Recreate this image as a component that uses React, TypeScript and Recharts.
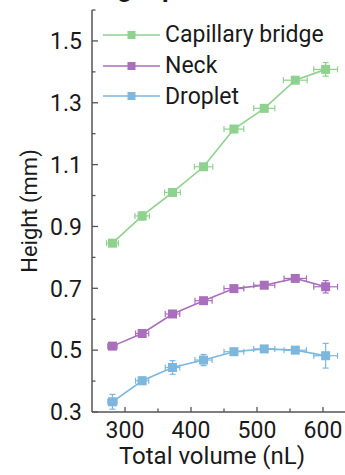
import { ErrorBar, Scatter, ScatterChart, XAxis, YAxis } from "recharts";

// x positions (nL) shared by the three series
const volumes = [281, 326, 372, 419, 465, 511, 558, 604];

const bridgeHeight = [0.846, 0.934, 1.01, 1.093, 1.215, 1.282, 1.373, 1.408];
const bridgeHeightErr = [0.008, 0.013, 0.01, 0.01, 0.008, 0.008, 0.01, 0.022];
const bridgeVolumeErr = [9, 11, 12, 14, 15, 16, 18, 18];

const neckHeight = [0.513, 0.554, 0.617, 0.66, 0.699, 0.71, 0.732, 0.705];
const neckHeightErr = [0.008, 0.012, 0.01, 0.008, 0.01, 0.008, 0.008, 0.02];
const neckVolumeErr = [7, 10, 11, 13, 15, 16, 17, 18];

const dropletHeight = [0.333, 0.401, 0.444, 0.468, 0.495, 0.504, 0.5, 0.482];
const dropletHeightErr = [0.024, 0.012, 0.022, 0.018, 0.01, 0.01, 0.008, 0.04];
const dropletVolumeErr = [7, 10, 11, 13, 15, 16, 17, 18];

const xTicks = [300, 350, 400, 450, 500, 550, 600, 650];
const xLabels = [300, 400, 500, 600];
const yTicks = [0.3, 0.4, 0.5, 0.6, 0.7, 0.8, 0.9, 1.0, 1.1, 1.2, 1.3, 1.4, 1.5, 1.6];
const yLabels = [0.3, 0.5, 0.7, 0.9, 1.1, 1.3, 1.5];

const series = [
  { name: "Capillary bridge", color: "#8fd18e", h: bridgeHeight, he: bridgeHeightErr, ve: bridgeVolumeErr },
  { name: "Neck", color: "#a96fbc", h: neckHeight, he: neckHeightErr, ve: neckVolumeErr },
  { name: "Droplet", color: "#7db7dd", h: dropletHeight, he: dropletHeightErr, ve: dropletVolumeErr },
];

const FONT = "Roboto, 'Noto Sans', sans-serif";
const AXIS = "#555";
const INK = "#1a1a1a";

const isIn = (list: number[], v: number) => list.some((l) => Math.abs(l - v) < 1e-6);

function YTick(props: any) {
  const { x, y, payload } = props;
  const major = isIn(yLabels, payload.value);
  return (
    <g>
      <line x1={x + 10} x2={x + 10 + (major ? 6 : 3.5)} y1={y} y2={y} stroke={AXIS} strokeWidth={1.3} />
      {major && (
        <text x={x} y={y} dy="0.36em" textAnchor="end" fontSize={23} fill={INK} fontFamily={FONT}>
          {payload.value.toFixed(1)}
        </text>
      )}
    </g>
  );
}

function XTick(props: any) {
  const { x, y, payload } = props;
  const major = isIn(xLabels, payload.value);
  return (
    <g>
      <line x1={x} x2={x} y1={y - 10} y2={y - 10 - (major ? 5 : 3.5)} stroke={AXIS} strokeWidth={1.3} />
      {major && (
        <text x={x} y={y} dy="0.71em" textAnchor="middle" fontSize={23} fill={INK} fontFamily={FONT}>
          {payload.value}
        </text>
      )}
    </g>
  );
}

function TopTick(props: any) {
  const { x, y } = props;
  return <line x1={x} x2={x} y1={y} y2={y + 4} stroke={AXIS} strokeWidth={1.3} />;
}

function Square(props: any) {
  const { cx, cy, fill } = props;
  if (cx == null || cy == null) return null;
  return <rect x={cx - 4.5} y={cy - 4.5} width={9} height={9} fill={fill} />;
}

function LegendBox() {
  return (
    <div style={{ position: "absolute", left: 103, top: 19.7, fontFamily: FONT, fontSize: 23, color: INK }}>
      {series.map((s) => (
        <div key={s.name} style={{ display: "flex", alignItems: "center", height: 30.6, whiteSpace: "nowrap" }}>
          <svg width={57} height={10} style={{ marginRight: 5 }}>
            <line x1={0} x2={57} y1={5} y2={5} stroke={s.color} strokeWidth={1.6} />
            <rect x={24.5} y={1} width={8} height={8} fill={s.color} />
          </svg>
          <span>{s.name}</span>
        </div>
      ))}
    </div>
  );
}

export default function App() {
  const data = series.map((s) =>
    volumes.map((v, i) => ({ v, h: s.h[i], he: s.he[i], ve: s.ve[i] }))
  );

  return (
    <div style={{ position: "fixed", left: 0, top: 0, width: 345, height: 475, overflow: "hidden", background: "#fff" }}>
      <div
        style={{
          position: "absolute",
          left: 78,
          top: -25,
          fontFamily: FONT,
          fontWeight: 700,
          fontSize: 26,
          lineHeight: 1,
          color: INK,
          whiteSpace: "nowrap",
        }}
      >
        Height profile
      </div>
      <ScatterChart width={370} height={475} margin={{ top: 10, right: 14, bottom: 0, left: 0 }}>
        <XAxis
          type="number"
          dataKey="v"
          domain={[250, 650]}
          ticks={xTicks}
          interval={0}
          allowDataOverflow
          height={63}
          tickSize={0}
          tickMargin={10}
          tickLine={false}
          tick={<XTick />}
          axisLine={{ stroke: AXIS, strokeWidth: 1.5 }}
          label={{
            value: "Total volume (nL)",
            position: "insideBottom",
            offset: 11,
            dx: -12,
            fontSize: 24,
            fill: INK,
            fontFamily: FONT,
          }}
        />
        <XAxis
          xAxisId="top"
          orientation="top"
          type="number"
          dataKey="v"
          domain={[250, 650]}
          ticks={xTicks}
          interval={0}
          allowDataOverflow
          height={0}
          tickSize={0}
          tickLine={false}
          tick={<TopTick />}
          axisLine={{ stroke: AXIS, strokeWidth: 1.5 }}
        />
        <YAxis
          type="number"
          dataKey="h"
          domain={[0.3, 1.6]}
          ticks={yTicks}
          interval={0}
          allowDataOverflow
          width={92}
          tickSize={0}
          tickMargin={10}
          tickLine={false}
          tick={<YTick />}
          axisLine={{ stroke: AXIS, strokeWidth: 1.5 }}
          label={{
            value: "Height (mm)",
            angle: -90,
            position: "center",
            dx: -17,
            fontSize: 22,
            fill: INK,
            fontFamily: FONT,
          }}
        />
        {series.map((s, idx) => (
          <Scatter
            key={s.name}
            name={s.name}
            data={data[idx]}
            fill={s.color}
            line={{ stroke: s.color, strokeWidth: 1.6 }}
            shape={<Square />}
            isAnimationActive={false}
          >
            <ErrorBar dataKey="ve" direction="x" width={3} stroke={s.color} strokeWidth={1.2} />
            <ErrorBar dataKey="he" direction="y" width={3} stroke={s.color} strokeWidth={1.2} />
          </Scatter>
        ))}
      </ScatterChart>
      <LegendBox />
    </div>
  );
}
